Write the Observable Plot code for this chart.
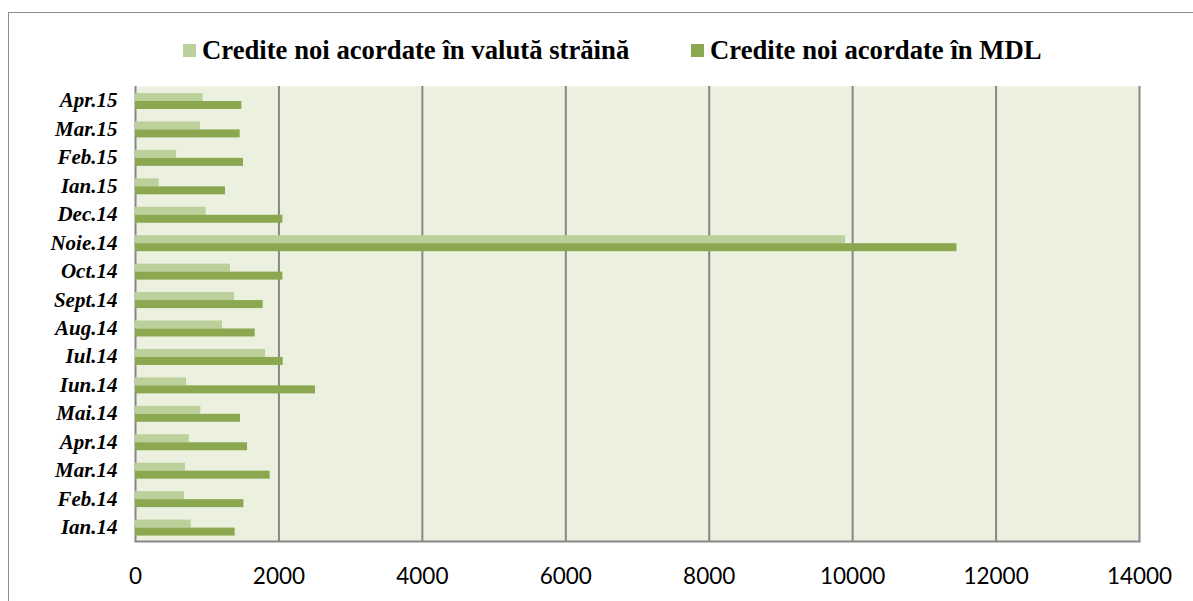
<!DOCTYPE html>
<html>
<head>
<meta charset="utf-8">
<script src="https://cdn.jsdelivr.net/npm/d3@7"></script>
<script src="https://cdn.jsdelivr.net/npm/@observablehq/plot@0.6"></script>
<style>
  html, body { margin: 0; padding: 0; background: #fff; }
  #frame { position: absolute; left: 8px; top: 12px; width: 1300px; height: 700px;
           border-top: 1.5px solid #8c8c8c; border-left: 1.5px solid #8c8c8c; z-index: 0; }
  #chart { position: absolute; left: 0; top: 0; width: 1193px; z-index: 1; }
  #legend { position: relative; height: 70px; font: bold 26.7px "Liberation Serif", "Times New Roman", serif; color: #000; }
  #legend .sw { position: absolute; width: 13px; height: 13px; top: 44px; }
  #legend .lab { position: absolute; top: 37px; line-height: 26px; white-space: nowrap; }
  svg { display: block; }
  g[aria-label="y-axis tick label"] text { font-family: "Liberation Serif", "Times New Roman", serif !important;
     font-style: italic !important; font-weight: bold !important; font-size: 21px !important; fill: #000; }
  g[aria-label="x-axis tick label"] text { font-family: Lato, "Open Sans", sans-serif !important;
     font-size: 22.5px !important; fill: #000; }
</style>
</head>
<body>
<div id="frame"></div>
<div id="chart">
  <div id="legend"></div>
</div>
<script>
const months = ["Ian.14","Feb.14","Mar.14","Apr.14","Mai.14","Iun.14","Iul.14","Aug.14","Sept.14","Oct.14","Noie.14","Dec.14","Ian.15","Feb.15","Mar.15","Apr.15"];
const valuta = [777, 683, 697, 749, 911, 711, 1813, 1213, 1381, 1325, 9902, 986, 330, 572, 906, 944];
const mdl = [1390, 1511, 1878, 1562, 1464, 2510, 2060, 1669, 1781, 2055, 11455, 2055, 1255, 1506, 1460, 1483];
const seriesNames = ["Credite noi acordate în valută străină", "Credite noi acordate în MDL"];
const seriesColors = ["#BBD09A", "#8BA851"];
const xTicks = [0, 2000, 4000, 6000, 8000, 10000, 12000, 14000];

const rowsValuta = months.map((m, i) => ({month: m, value: valuta[i]}));
const rowsMdl = months.map((m, i) => ({month: m, value: mdl[i]}));

// legend
const legend = document.getElementById("legend");
const legendPos = [[183, 202], [691, 710]];
seriesNames.forEach((name, i) => {
  const sw = document.createElement("span");
  sw.className = "sw";
  sw.style.left = legendPos[i][0] + "px";
  sw.style.background = seriesColors[i];
  legend.appendChild(sw);
  const lab = document.createElement("span");
  lab.className = "lab";
  lab.style.left = legendPos[i][1] + "px";
  lab.textContent = name;
  legend.appendChild(lab);
});

const band = 455 / 16;
const chart = Plot.plot({
  width: 1193,
  height: 531,
  marginTop: 16,
  marginBottom: 60,
  marginLeft: 135,
  marginRight: 54,
  style: {background: "transparent", overflow: "visible"},
  x: {domain: [0, 14000], ticks: xTicks},
  y: {domain: months.slice().reverse(), padding: 0, round: false},
  marks: [
    Plot.frame({fill: "#EBF0DF", stroke: null}),
    Plot.ruleX(xTicks, {stroke: "#878787", strokeWidth: 2, strokeOpacity: 1}),
    Plot.frame({anchor: "bottom", stroke: "#878787", strokeWidth: 2, strokeOpacity: 1}),
    Plot.barX(rowsValuta, {y: "month", x: "value", fill: seriesColors[0], insetTop: 7, insetBottom: band - 15}),
    Plot.barX(rowsMdl, {y: "month", x: "value", fill: seriesColors[1], insetTop: 15, insetBottom: band - 23}),
    Plot.axisX({ticks: xTicks, tickSize: 0, tickPadding: 27, tickFormat: d3.format("d"), label: null,
      fontSize: 22.5, fontFamily: "Lato, 'Open Sans', sans-serif", fill: "#000"}),
    Plot.axisY({tickSize: 0, tickPadding: 18, label: null,
      fontSize: 21, fontFamily: "'Liberation Serif', 'Times New Roman', serif", fontWeight: "bold", fontStyle: "italic", fill: "#000"})
  ]
});
document.getElementById("chart").appendChild(chart);
</script>
</body>
</html>
